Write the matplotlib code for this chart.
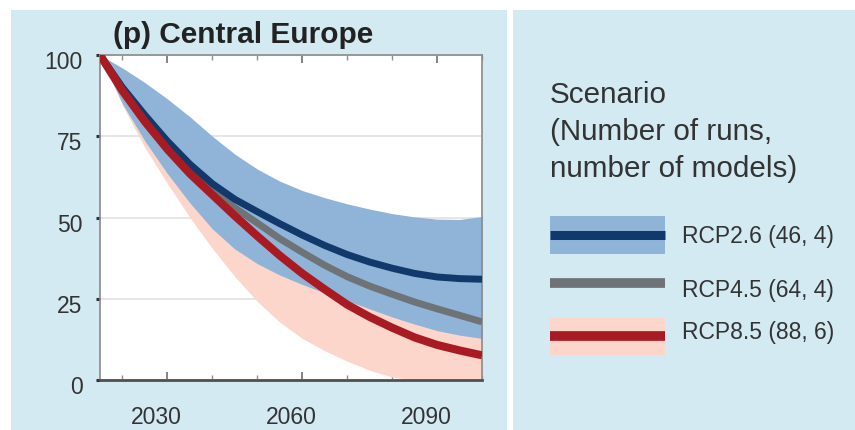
import matplotlib
matplotlib.use("Agg")
import matplotlib.pyplot as plt
from matplotlib.patches import Rectangle
from matplotlib.lines import Line2D
import matplotlib.transforms as mtransforms

plt.rcParams['font.family'] = ['Liberation Sans', 'DejaVu Sans']

# ---------------- data ----------------
years = [2015, 2020, 2025, 2030, 2035, 2040, 2045, 2050, 2055, 2060,
         2065, 2070, 2075, 2080, 2085, 2090, 2095, 2100]
rcp26_mean = [100, 90, 81.5, 73.5, 66.4, 60.4, 55.6, 51.8, 48.1, 44.6,
              41.4, 38.6, 36.3, 34.4, 32.8, 31.7, 31.2, 31.0]
rcp26_upper = [100, 96, 91.5, 86.5, 81, 75, 69.5, 64.9, 61.2, 58.3,
               56.1, 54.2, 52.6, 51.2, 50.2, 49.5, 49.4, 50.3]
rcp26_lower = [100, 85, 73.5, 63.5, 54.5, 46.5, 40.3, 35.8, 32.3, 29.4,
               26.8, 24.4, 21.9, 19.4, 17.2, 15.2, 13.8, 12.8]
rcp45_mean = [100, 89.5, 80.3, 72, 64.8, 58.5, 53, 48.3, 43.5, 39.3,
              35.3, 31.8, 28.9, 26.4, 24.0, 21.9, 19.9, 17.9]
rcp85_mean = [100, 89, 79.5, 71, 63.5, 57, 50.5, 44.3, 38.3, 32.8,
              27.9, 23.2, 19.4, 16.1, 13.1, 10.8, 9.1, 7.6]
rcp85_upper = [100, 92, 84, 76, 68.5, 62, 56.5, 51.5, 47, 43,
               39.5, 36.5, 33.5, 31, 28.5, 26.5, 24.5, 23]
rcp85_lower = [100, 84.5, 71.5, 60.5, 50, 40.5, 31.8, 24.2, 17.8, 12.8,
               9, 5.8, 3.0, 0.9, 0, 0, 0, 0]

title = "(p) Central Europe"
x_ticks = [2030, 2060, 2090]
x_minor = [2020, 2040, 2050, 2070, 2080, 2100]
y_ticks = [0, 25, 50, 75, 100]
legend_title_lines = ["Scenario", "(Number of runs,", "number of models)"]
legend_labels = ["RCP2.6 (46, 4)", "RCP4.5 (64, 4)", "RCP8.5 (88, 6)"]

# ---------------- colours ----------------
BG = "#d4eaf2"
BAND_BLUE = "#8fb4d8"
BAND_PINK = "#fcd6ca"
NAVY = "#12396b"
GRAY = "#6e7378"
RED = "#a81b22"
TXT = "#333333"

W, H = 855, 430
fig = plt.figure(figsize=(W / 100, H / 100), dpi=100)
fig.patch.set_facecolor("white")

# background / legend canvas in pixel coordinates
bg = fig.add_axes([0, 0, 1, 1], zorder=0)
bg.set_xlim(0, W)
bg.set_ylim(H, 0)
bg.axis("off")
bg.add_patch(Rectangle((11, 10), 496, 420, facecolor=BG, edgecolor="none"))
bg.add_patch(Rectangle((513, 10), 342, 420, facecolor=BG, edgecolor="none"))

# ---------------- main axes ----------------
L, R, T, B = 100, 482, 55, 380
ax = fig.add_axes([L / W, (H - B) / H, (R - L) / W, (B - T) / H], zorder=1)
ax.set_facecolor("white")

ax.fill_between(years, rcp85_lower, rcp85_upper, color=BAND_PINK, lw=0, zorder=1)
ax.fill_between(years, rcp26_lower, rcp26_upper, color=BAND_BLUE, lw=0, zorder=2)
ax.plot(years, rcp45_mean, color=GRAY, lw=5.0, solid_capstyle="butt",
        solid_joinstyle="round", zorder=3)
ax.plot(years, rcp26_mean, color=NAVY, lw=5.0, solid_capstyle="butt",
        solid_joinstyle="round", zorder=4)
ax.plot(years, rcp85_mean, color=RED, lw=5.8, solid_capstyle="butt",
        solid_joinstyle="round", zorder=5)

ax.set_xlim(2015, 2100)
ax.set_ylim(0, 100)
ax.set_yticks(y_ticks)
ax.set_xticks(x_ticks)
ax.set_xticks(x_minor, minor=True)
ax.grid(axis="y", color="#e4e4e4", lw=1.3, zorder=0)
ax.set_axisbelow(True)

for s in ["top", "right", "left"]:
    ax.spines[s].set_color("#8a8a8a")
    ax.spines[s].set_linewidth(1.2)
ax.spines["bottom"].set_color("#505050")
ax.spines["bottom"].set_linewidth(2.0)

ax.tick_params(axis="x", which="major", direction="in", length=6, width=1.2,
               color="#707070", top=True, labelsize=16.5, labelcolor=TXT, pad=19)
ax.tick_params(axis="x", which="minor", direction="in", length=3.5, width=1.0,
               color="#909090", top=True)
ax.tick_params(axis="y", which="major", direction="out", length=3, width=2.2,
               color="#303030", right=False, labelsize=16.5, labelcolor=TXT, pad=9.5)

dx = mtransforms.ScaledTranslation(-11 / 100, 0, fig.dpi_scale_trans)
for lab in ax.get_xticklabels():
    lab.set_transform(lab.get_transform() + dx)
dy = mtransforms.ScaledTranslation(0, -5 / 100, fig.dpi_scale_trans)
for lab in ax.get_yticklabels():
    lab.set_transform(lab.get_transform() + dy)

bg.text(113, 43, title, fontsize=21.5, fontweight="bold", color="#222222",
        ha="left", va="baseline")

# ---------------- legend ----------------
for line, yb in zip(legend_title_lines, [103, 140, 177]):
    bg.text(550, yb, line, fontsize=21.3, color=TXT, ha="left", va="baseline")

sw_x0, sw_x1 = 550, 665
# RCP2.6
bg.add_patch(Rectangle((sw_x0, 216), sw_x1 - sw_x0, 38, facecolor=BAND_BLUE, edgecolor="none"))
bg.add_line(Line2D([sw_x0, sw_x1], [234.5, 234.5], color=NAVY, lw=6.5, solid_capstyle="butt"))
# RCP4.5
bg.add_line(Line2D([sw_x0, sw_x1], [283, 283], color=GRAY, lw=7, solid_capstyle="butt"))
# RCP8.5
bg.add_patch(Rectangle((sw_x0, 318), sw_x1 - sw_x0, 37, facecolor=BAND_PINK, edgecolor="none"))
bg.add_line(Line2D([sw_x0, sw_x1], [335.5, 335.5], color=RED, lw=7, solid_capstyle="butt"))

for lab, yc in zip(legend_labels, [236, 290, 333]):
    bg.text(682, yc, lab, fontsize=16.5, color=TXT, ha="left", va="center")

fig.savefig("out.png", dpi=100, facecolor=fig.get_facecolor())
